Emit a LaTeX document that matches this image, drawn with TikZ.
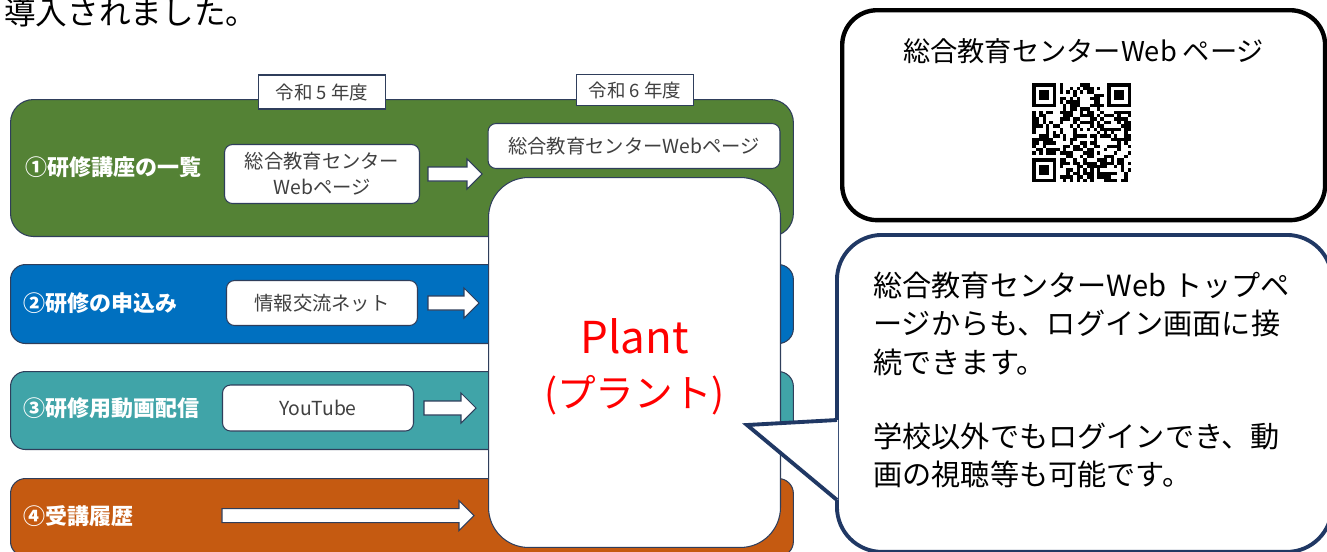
\documentclass[tikz,border=0pt]{standalone}
\usepackage{fontspec}
\setmainfont{Noto Sans CJK JP}
\usepackage{tikz}
\usetikzlibrary{positioning,calc}

\definecolor{bandgreen}{HTML}{548235}
\definecolor{bandblue}{HTML}{0070C0}
\definecolor{bandteal}{HTML}{40A4A8}
\definecolor{bandorange}{HTML}{C55A11}
\definecolor{edgenavy}{HTML}{2F3E5B}
\definecolor{calloutnavy}{HTML}{203864}
\definecolor{boxtext}{HTML}{404040}

\newcommand{\blockarrow}[2]{%
  \draw[arrowbox] ($(#1)+(0,-7)$) -- ($(#2)+(-15,-7)$) -- ($(#2)+(-15,-15)$) -- (#2)
    -- ($(#2)+(-15,15)$) -- ($(#2)+(-15,7)$) -- ($(#1)+(0,7)$) -- cycle;}
\newcommand{\qrfinder}[2]{%
  \fill ($(qr.north west)+(#1*3.4,#2*3.4)$) rectangle +(23.8,23.8);
  \fill[white] ($(qr.north west)+(#1*3.4+3.4,#2*3.4+3.4)$) rectangle +(17,17);
  \fill ($(qr.north west)+(#1*3.4+6.8,#2*3.4+6.8)$) rectangle +(10.2,10.2);}

\begin{document}
\begin{tikzpicture}[x=0.02cm,y=-0.02cm]
\tikzstyle{band}=[draw=edgenavy, line width=0.6pt, minimum width=15.66cm, anchor=north west, inner sep=0]
\tikzstyle{bandlabel}=[text=white, font=\bfseries\fontsize{12.5}{15}\selectfont, anchor=west, inner sep=0]
\tikzstyle{oldbox}=[draw=edgenavy, line width=0.6pt, fill=white, rounded corners=0.16cm, text=boxtext, font=\fontsize{11}{14.7}\selectfont, align=center, inner sep=0]
\tikzstyle{yearbox}=[draw=edgenavy, line width=0.6pt, fill=white, text=boxtext, font=\fontsize{10.5}{12}\selectfont, inner sep=0]
\tikzstyle{arrowbox}=[draw=edgenavy, line width=0.6pt, fill=white, line join=miter]
\tikzstyle{plantbox}=[draw=edgenavy, line width=0.6pt, fill=white, rounded corners=0.8cm, inner sep=0]
\tikzstyle{planttext}=[text=red, inner sep=0]
\tikzstyle{qrframe}=[draw=black, line width=2.5pt, fill=white, rounded corners=0.7cm, inner sep=0]
\tikzstyle{calloutbox}=[draw=calloutnavy, line width=2.2pt, fill=white, rounded corners=0.9cm, inner sep=0]
\tikzstyle{calloutline}=[draw=calloutnavy, line width=2.2pt, line join=miter]

\useasboundingbox (0,0) rectangle (1327,551);
\clip (0,0) rectangle (1327,551);

\node (intro) [anchor=west, inner sep=0, font=\fontsize{18}{21}\selectfont] at (4,12) {導入されました。};

\node (band1) [band, fill=bandgreen, minimum height=2.74cm, rounded corners=0.46cm] at (10,99) {};
\node (band2) [band, fill=bandblue, minimum height=1.58cm, rounded corners=0.3cm] at (10,264) {};
\node (band3) [band, fill=bandteal, minimum height=1.56cm, rounded corners=0.3cm] at (10,371) {};
\node (band4) [band, fill=bandorange, minimum height=1.56cm, rounded corners=0.3cm] at (10,478) {};

\node (year5) [yearbox, minimum width=2.54cm, minimum height=0.68cm] at (322,92) {令和 5 年度};
\node (year6) [yearbox, minimum width=2.34cm, minimum height=0.62cm] at (635,90) {令和 6 年度};

\node (lab1) [bandlabel] at ($(band1.west)+(15,-1)$) {①研修講座の一覧};
\node (lab2) [bandlabel] at ($(band2.west)+(13,-1)$) {②研修の申込み};
\node (lab3) [bandlabel] at ($(band3.west)+(13,-2)$) {③研修用動画配信};
\node (lab4) [bandlabel] at ($(band4.west)+(13,-1)$) {④受講履歴};

\node (old1) [oldbox, minimum width=3.9cm, minimum height=1.18cm] at (322,174) {総合教育センター\\Webページ};
\node (old2) [oldbox, minimum width=3.82cm, minimum height=0.9cm] at (322,303) {情報交流ネット};
\node (old3) [oldbox, minimum width=3.82cm, minimum height=0.92cm] at (318,408) {YouTube};

\node (web6) [oldbox, minimum width=5.84cm, minimum height=0.9cm] at (634,146) {総合教育センターWebページ};
\node (plant) [plantbox, minimum width=5.84cm, minimum height=7.4cm, anchor=north west] at (488,177) {};
\node (plantname) [planttext, font=\fontsize{25}{30}\selectfont, anchor=base] at ($(plant.center)+(0,-9)$) {Plant};
\node (plantkana) [planttext, font=\fontsize{22}{26}\selectfont, anchor=base] at ($(plant.center)+(0,45)$) {(プラント)};

\coordinate (a1s) at ($(old1.east)+(8,0)$);
\coordinate (a1e) at ($(plant.west |- old1.east)+(-6,0)$);
\coordinate (a2s) at ($(old2.east)+(10,0)$);
\coordinate (a2e) at ($(plant.west |- old2.east)+(-9,0)$);
\coordinate (a3s) at ($(old3.east)+(10,0)$);
\coordinate (a3e) at ($(plant.west |- old3.east)+(-12,0)$);
\coordinate (a4s) at ($(old3.west |- band4.west)+(0,-2)$);
\coordinate (a4e) at ($(plant.west |- a4s)+(-14,0)$);
\blockarrow{a1s}{a1e}
\blockarrow{a2s}{a2e}
\blockarrow{a3s}{a3e}
\blockarrow{a4s}{a4e}

\node (qrbox) [qrframe, minimum width=9.66cm, minimum height=4.2cm, anchor=north west] at (840,8) {};
\node (qrtitle) [font=\fontsize{15.5}{18}\selectfont, inner sep=0] at ($(qrbox.north)+(0,43)$) {総合教育センターWeb ページ};
\node (qr) [minimum size=1.972cm, inner sep=0] at (1082,133) {};
\pgfmathsetseed{4242}
\foreach \i in {0,...,28}{
  \foreach \j in {0,...,28}{
    \pgfmathtruncatemacro{\infinder}{(\i<8 && \j<8) || (\i>20 && \j<8) || (\i<8 && \j>20)}
    \pgfmathtruncatemacro{\dark}{rnd<0.5}
    \ifnum\infinder=0 \ifnum\dark=1
      \fill ($(qr.north west)+(\i*3.4,\j*3.4)$) rectangle +(3.4,3.4);
    \fi\fi
  }
}
\qrfinder{0}{0}
\qrfinder{22}{0}
\qrfinder{0}{22}

\node (callout) [calloutbox, minimum width=9.9cm, minimum height=6.34cm, anchor=north west] at (835,233) {};
\coordinate (tip) at (747,425);
\fill[white] ($(callout.west |- 0,420)+(3,0)$) -- (tip) -- ($(callout.west |- 0,500)+(3,0)$) -- cycle;
\draw[calloutline] ($(callout.west |- 0,420)+(2,0)$) -- (tip) -- ($(callout.west |- 0,500)+(2,0)$);
\node (calltext) [anchor=west, align=left, inner sep=0, font=\fontsize{16.6}{22}\selectfont] at (873,380)
  {総合教育センターWeb トップペ\\ージからも、ログイン画面に接\\続できます。\\[20pt]学校以外でもログインでき、動\\画の視聴等も可能です。};
\end{tikzpicture}
\end{document}
